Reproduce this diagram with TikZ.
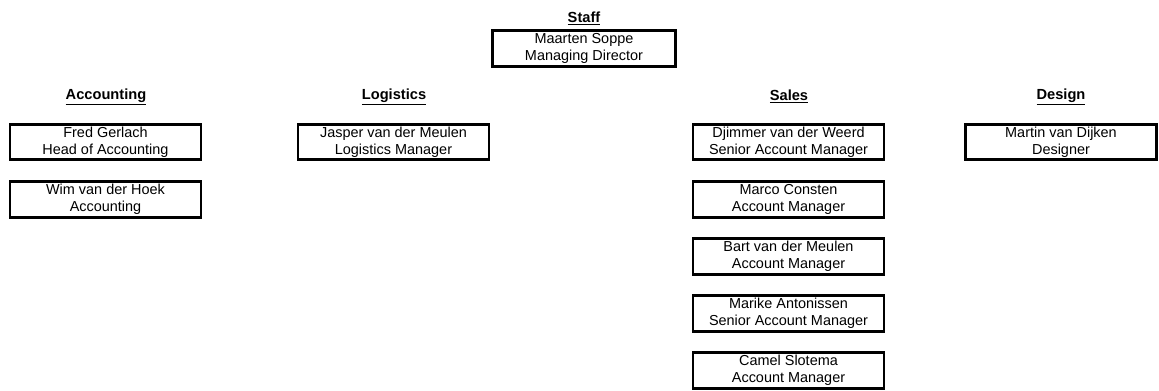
\documentclass[tikz,border=0pt]{standalone}
\usepackage{fontspec}
\setmainfont{Liberation Sans}
\begin{document}
\begin{tikzpicture}[x=1bp,y=-1bp,
  person/.style={draw=black, line width=2.8bp, rectangle, minimum width=191bp, minimum height=35.5bp,
    inner sep=0pt, align=center, font=\fontsize{14.5}{17}\selectfont},
  dept/.style={inner sep=0pt, font=\fontsize{14.7}{17.6}\selectfont\bfseries}]
\useasboundingbox (0,0) rectangle (1159,390);
% titles
\node[dept] (tstaff) at (584,18.5) {\underline{Staff}};
\node[dept] (tacc) at (106,96.5) {\underline{Accounting}};
\node[dept] (tlog) at (394,96.5) {\underline{Logistics}};
\node[dept] (tsales) at (789,96.5) {\underline{Sales}};
\node[dept] (tdes) at (1061,96.5) {\underline{Design}};
% boxes
\node[person, minimum width=183bp, minimum height=36bp] (staff) at (584,48.5) {Maarten Soppe\\Managing Director};
\node[person] (fred) at (105.5,142) {Fred Gerlach\\Head of Accounting};
\node[person] (wim) at (105.5,199.5) {Wim van der Hoek\\Accounting};
\node[person] (jasper) at (393.5,142) {Jasper van der Meulen\\Logistics Manager};
\node[person] (djimmer) at (788.5,142) {Djimmer van der Weerd\\Senior Account Manager};
\node[person] (marco) at (788.5,199.5) {Marco Consten\\Account Manager};
\node[person] (bart) at (788.5,256.5) {Bart van der Meulen\\Account Manager};
\node[person] (marike) at (788.5,313.5) {Marike Antonissen\\Senior Account Manager};
\node[person] (camel) at (788.5,370.5) {Camel Slotema\\Account Manager};
\node[person] (martin) at (1061,142) {Martin van Dijken\\Designer};
\end{tikzpicture}
\end{document}
